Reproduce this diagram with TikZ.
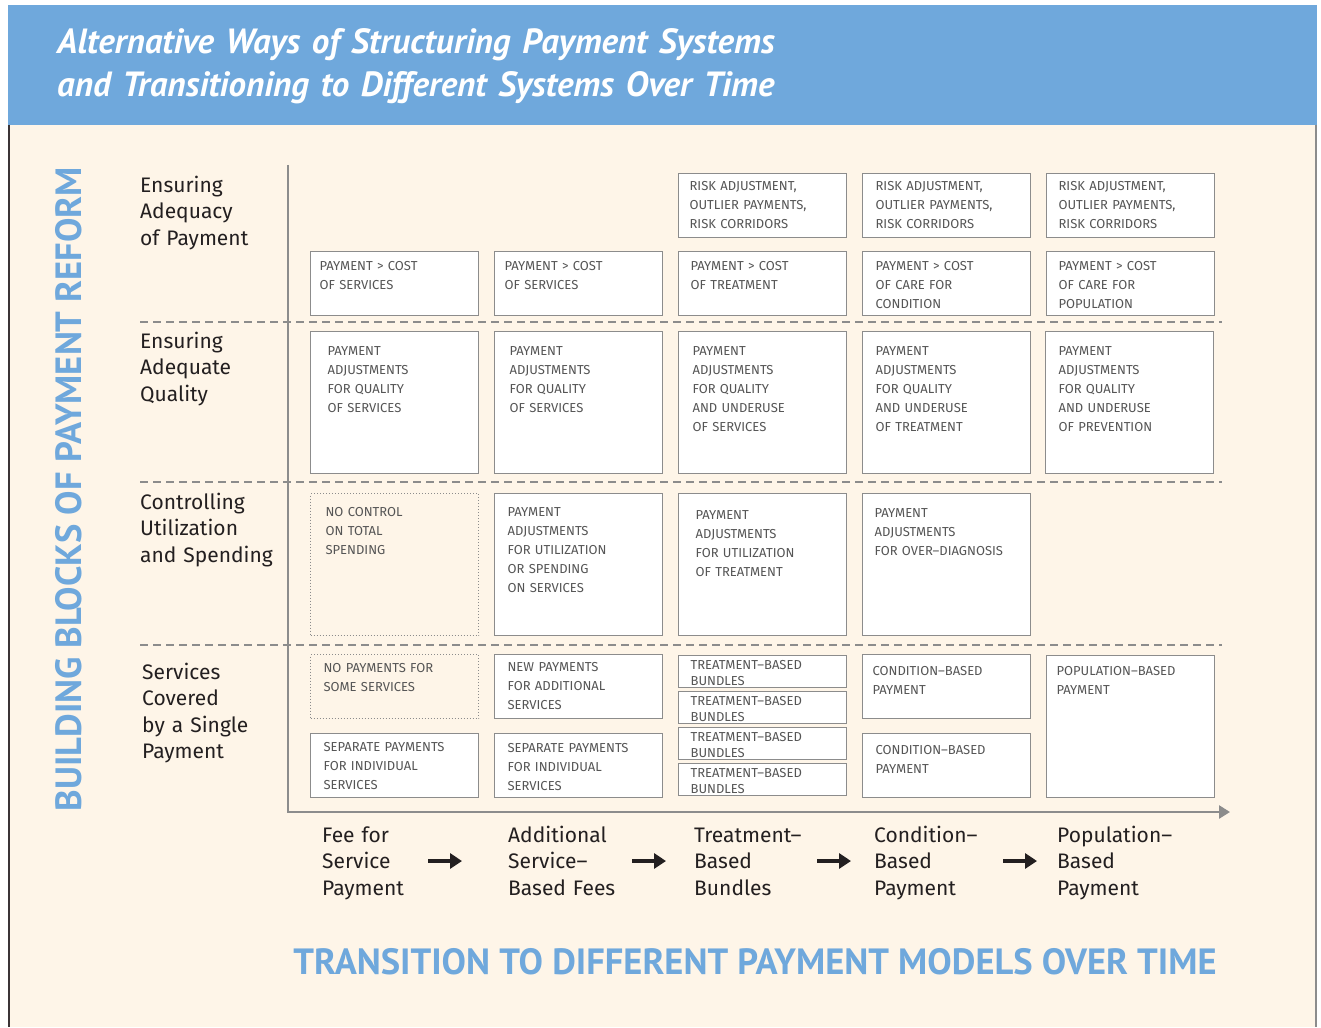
\documentclass[tikz,border=0pt]{standalone}
\usepackage{fontspec}
\setmainfont{Fira Sans}
\newfontfamily\headfont{PT Sans}
\usetikzlibrary{arrows.meta}
\definecolor{HeadBlue}{HTML}{6FA8DC}
\definecolor{Cream}{HTML}{FEF5E8}
\definecolor{CLine}{HTML}{8C8C8C}
\definecolor{CText}{HTML}{555555}
\definecolor{CDark}{HTML}{231F20}
\definecolor{CFrame}{HTML}{3B3436}
\tikzset{
    box/.style={
        draw=CLine,
        fill=white,
        line width=1.2pt,
        anchor=north west,
        align=left,
        inner ysep=0pt,
        font=\fontsize{13}{19}\selectfont,
        text=CText
    },
    % inset, box height, first baseline
    cell/.code n args={3}{%
        \pgfmathsetlengthmacro\cellw{168pt-2*#1pt}%
        \pgfmathsetlengthmacro\celld{#2pt-#3pt}%
        \tikzset{box, inner xsep=#1pt, text width=\cellw, text height=#3pt, text depth=\celld}
    },
    dotbox/.style={
        fill=none,
        dash pattern=on 1pt off 2pt
    },
    rowlabel/.style={
        anchor=base west,
        align=left,
        inner sep=0pt,
        text width=145pt,
        font=\fontsize{21}{26.5}\selectfont,
        text=CDark
    },
    modellabel/.style={
        rowlabel,
        text width=130pt
    },
    separator/.style={
        draw=CLine,
        line width=2pt,
        dash pattern=on 8pt off 5pt
    },
    axis/.style={
        draw=CLine,
        line width=2.5pt,
        -{Triangle[length=11pt, width=13pt]}
    },
    steparrow/.style={
        draw=CDark,
        line width=4pt,
        -{Triangle[length=12pt, width=15pt]}
    },
    bigtitle/.style={
        font=\headfont\bfseries\fontsize{36.5}{36.5}\selectfont,
        text=HeadBlue,
        inner sep=0pt
    }
}

\begin{document}
\begin{tikzpicture}[x=1pt, y=-1pt]
    \useasboundingbox (0,0) rectangle (1321,1027);
    \fill[white] (0,0) rectangle (1321,1027);

    % Frame
    \fill[HeadBlue] (8,5) rectangle (1317,125);
    \fill[Cream] (8,125) rectangle (1317,1027);
    \draw[CFrame, line width=2pt] (9,125) -- (9,1027);
    \draw[CLine, line width=2pt] (1316,125) -- (1316,1027);

    % Titles
    \node[anchor=base west, align=left, inner sep=0pt, text=white, text width=1100pt,
          font=\headfont\bfseries\itshape\fontsize{35}{43}\selectfont] (title) at (57,54)
          {Alternative Ways of Structuring Payment Systems\\and Transitioning to Different Systems Over Time};
    \node[bigtitle, rotate=90] (blocks) at (69,489) {BUILDING BLOCKS OF PAYMENT REFORM};
    \node[bigtitle] (transition) at (755,962) {TRANSITION TO DIFFERENT PAYMENT MODELS OVER TIME};

    % Axes and row separators
    \draw[axis] (288,165) -- (288,812) -- (1230,812);
    \foreach \y in {322,482,645}
        \draw[separator] (140,\y) -- (1222,\y);

    % Row labels
    \node[rowlabel] (adequacy) at (140,192) {Ensuring\\Adequacy\\of Payment};
    \node[rowlabel] (quality) at (140,348) {Ensuring\\Adequate\\Quality};
    \node[rowlabel] (spending) at (140,509) {Controlling\\Utilization\\and Spending};
    \node[rowlabel] (coverage) at (142,679) {Services\\Covered\\by a Single\\Payment};

    % Ensuring adequacy of payment
    \foreach \x/\n/\p in {678/3/11, 862/4/13, 1046/5/12}
        \node[cell={\p}{64}{16.5}] (risk\n) at (\x,173) {RISK ADJUSTMENT,\\OUTLIER PAYMENTS,\\RISK CORRIDORS};
    \node[cell={9}{64}{18.5}] (cost1) at (310,251) {PAYMENT > COST\\OF SERVICES};
    \node[cell={10}{64}{18.5}] (cost2) at (494,251) {PAYMENT > COST\\OF SERVICES};
    \node[cell={12}{64}{18.5}] (cost3) at (678,251) {PAYMENT > COST\\OF TREATMENT};
    \node[cell={13}{64}{18.5}] (cost4) at (862,251) {PAYMENT > COST\\OF CARE FOR\\CONDITION};
    \node[cell={12}{64}{18.5}] (cost5) at (1046,251) {PAYMENT > COST\\OF CARE FOR\\POPULATION};

    % Ensuring adequate quality
    \node[cell={17}{142}{23.5}] (qual1) at (310,331) {PAYMENT\\ADJUSTMENTS\\FOR QUALITY\\OF SERVICES};
    \node[cell={15}{142}{23.5}] (qual2) at (494,331) {PAYMENT\\ADJUSTMENTS\\FOR QUALITY\\OF SERVICES};
    \node[cell={14}{142}{23.5}] (qual3) at (678,331) {PAYMENT\\ADJUSTMENTS\\FOR QUALITY\\AND UNDERUSE\\OF SERVICES};
    \node[cell={13}{142}{23.5}] (qual4) at (862,331) {PAYMENT\\ADJUSTMENTS\\FOR QUALITY\\AND UNDERUSE\\OF TREATMENT};
    \node[cell={13}{142}{23.5}] (qual5) at (1045,331) {PAYMENT\\ADJUSTMENTS\\FOR QUALITY\\AND UNDERUSE\\OF PREVENTION};

    % Controlling utilization and spending
    \node[cell={15}{142}{22.5}, dotbox] (util1) at (310,493) {NO CONTROL\\ON TOTAL\\SPENDING};
    \node[cell={13}{142}{22.5}] (util2) at (494,493) {PAYMENT\\ADJUSTMENTS\\FOR UTILIZATION\\OR SPENDING\\ON SERVICES};
    \node[cell={17}{142}{25.5}] (util3) at (678,493) {PAYMENT\\ADJUSTMENTS\\FOR UTILIZATION\\OF TREATMENT};
    \node[cell={12}{142}{23.5}] (util4) at (862,493) {PAYMENT\\ADJUSTMENTS\\FOR OVER–DIAGNOSIS};

    % Services covered by a single payment
    \node[cell={13}{64}{17.5}, dotbox] (cover1) at (310,654) {NO PAYMENTS FOR\\SOME SERVICES};
    \node[cell={13}{64}{17.5}] (separate1) at (310,733) {SEPARATE PAYMENTS\\FOR INDIVIDUAL\\SERVICES};
    \node[cell={13}{64}{16.5}] (cover2) at (494,654) {NEW PAYMENTS\\FOR ADDITIONAL\\SERVICES};
    \node[cell={13}{64}{18.5}] (separate2) at (494,733) {SEPARATE PAYMENTS\\FOR INDIVIDUAL\\SERVICES};
    \foreach \y/\n in {655/1, 691/2, 727/3, 763/4}
        \node[cell={12}{32}{13.5}, font=\fontsize{13}{16}\selectfont] (bundle\n) at (678,\y) {TREATMENT–BASED\\BUNDLES};
    \node[cell={10}{64}{20.5}] (cover4) at (862,654) {CONDITION–BASED\\PAYMENT};
    \node[cell={13}{64}{20.5}] (condition) at (862,733) {CONDITION–BASED\\PAYMENT};
    \node[cell={10}{142}{19.5}] (cover5) at (1046,655) {POPULATION–BASED\\PAYMENT};

    % Payment models over time
    \node[modellabel] (fee) at (322,842) {Fee for\\Service\\Payment};
    \node[modellabel] (addl) at (508,842) {Additional\\Service–\\Based Fees};
    \node[modellabel] (treat) at (694,842) {Treatment–\\Based\\Bundles};
    \node[modellabel] (cond) at (874,842) {Condition–\\Based\\Payment};
    \node[modellabel] (pop) at (1057,842) {Population–\\Based\\Payment};

    \draw[steparrow, shorten <=106pt, shorten >=46pt] ([yshift=-19pt]fee.base west) -- ([yshift=-19pt]addl.base west);
    \draw[steparrow, shorten <=124pt, shorten >=28pt] ([yshift=-19pt]addl.base west) -- ([yshift=-19pt]treat.base west);
    \draw[steparrow, shorten <=123pt, shorten >=23pt] ([yshift=-19pt]treat.base west) -- ([yshift=-19pt]cond.base west);
    \draw[steparrow, shorten <=129pt, shorten >=20pt] ([yshift=-19pt]cond.base west) -- ([yshift=-19pt]pop.base west);
\end{tikzpicture}
\end{document}
